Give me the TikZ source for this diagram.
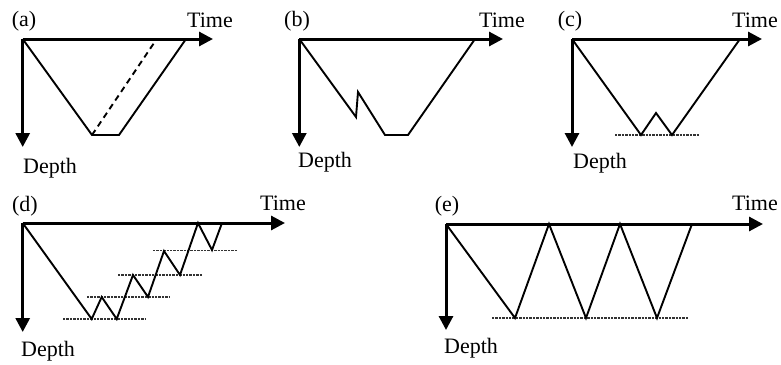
\documentclass[tikz,border=0pt]{standalone}
\usepackage{fontspec}
\setmainfont{Liberation Serif}
\usetikzlibrary{arrows.meta}
\tikzset{
  axis/.style={line width=1.5pt,-{Triangle[length=7pt,width=7pt]}},
  dive/.style={line width=0.95pt,line join=miter},
  stopline/.style={line width=0.55pt,black!80,dash pattern=on 1.2pt off 0.5pt},
  lbl/.style={font=\fontsize{11}{13}\selectfont,inner sep=0pt},
}

\begin{document}
\begin{tikzpicture}[x=0.5pt,y=-0.5pt]
  \useasboundingbox (0,0) rectangle (781,364);

  % (a) square profile, dashed ascent
  \coordinate (oa) at (22.7,39);
  \coordinate (ta) at (213,39);
  \coordinate (da) at (22.7,147);
  \coordinate (a1) at (92,135);
  \coordinate (a2) at (119,135);
  \coordinate (a3) at (186,39);
  \coordinate (a4) at (154,43);
  \draw[axis] (oa) -- (ta);
  \draw[axis] (oa) -- (da);
  \draw[dive] (oa) -- (a1) -- (a2) -- (a3);
  \draw[line width=0.95pt,dash pattern=on 3pt off 2.2pt] (a1) -- (a4);
  \node[lbl] (la) at (24,21) {(a)};
  \node[lbl] (tma) at (210,20) {Time};
  \node[lbl] (dpa) at (50,168) {Depth};

  % (b) saw-tooth on descent
  \coordinate (ob) at (299.3,39);
  \coordinate (tb) at (503,39);
  \coordinate (db) at (299.3,147);
  \coordinate (b1) at (356,117);
  \coordinate (b2) at (358,92);
  \coordinate (b3) at (385,135);
  \coordinate (b4) at (408,135);
  \coordinate (b5) at (475,39);
  \draw[axis] (ob) -- (tb);
  \draw[axis] (ob) -- (db);
  \draw[dive] (ob) -- (b1) -- (b2) -- (b3) -- (b4) -- (b5);
  \node[lbl] (lb) at (297,21) {(b)};
  \node[lbl] (tmb) at (502,20) {Time};
  \node[lbl] (dpb) at (325,162) {Depth};

  % (c) double bottom
  \coordinate (oc) at (572,39);
  \coordinate (tc) at (762,39);
  \coordinate (dc) at (572,147);
  \coordinate (c1) at (641,135);
  \coordinate (c2) at (656,113);
  \coordinate (c3) at (672,135);
  \coordinate (c4) at (740,39);
  \coordinate (cs1) at (615,135);
  \coordinate (cs2) at (699,135);
  \draw[axis] (oc) -- (tc);
  \draw[axis] (oc) -- (dc);
  \draw[stopline] (cs1) -- (cs2);
  \draw[dive] (oc) -- (c1) -- (c2) -- (c3) -- (c4);
  \node[lbl] (lc) at (570,21) {(c)};
  \node[lbl] (tmc) at (755,20) {Time};
  \node[lbl] (dpc) at (600,163) {Depth};

  % (d) staged ascent
  \coordinate (od) at (22.7,223);
  \coordinate (td) at (285,223);
  \coordinate (dd) at (22.7,332);
  \coordinate (d1) at (91.7,319);
  \coordinate (d2) at (101.7,297);
  \coordinate (d3) at (116.7,319);
  \coordinate (d4) at (133,275);
  \coordinate (d5) at (148,297);
  \coordinate (d6) at (164,251);
  \coordinate (d7) at (180,275);
  \coordinate (d8) at (198,223);
  \coordinate (d9) at (212,250);
  \coordinate (d10) at (222,223);
  \draw[axis] (od) -- (td);
  \draw[axis] (od) -- (dd);
  \draw[stopline] (63,319) coordinate (ds1) -- (145,319) coordinate (ds2);
  \draw[stopline] (87,297) coordinate (ds3) -- (170,297) coordinate (ds4);
  \draw[stopline] (118,275) coordinate (ds5) -- (202,275) coordinate (ds6);
  \draw[stopline] (153,250.5) coordinate (ds7) -- (237,250.5) coordinate (ds8);
  \draw[dive] (od) -- (d1) -- (d2) -- (d3) -- (d4) -- (d5) -- (d6) -- (d7) -- (d8) -- (d9) -- (d10);
  \node[lbl] (ld) at (25,206) {(d)};
  \node[lbl] (tmd) at (283,203) {Time};
  \node[lbl] (dpd) at (48,351) {Depth};

  % (e) repeated dives
  \coordinate (oe) at (446,224);
  \coordinate (te) at (763,224);
  \coordinate (de) at (446,330);
  \coordinate (e1) at (515,318);
  \coordinate (e2) at (549,224);
  \coordinate (e3) at (586,318);
  \coordinate (e4) at (620,224);
  \coordinate (e5) at (657,318);
  \coordinate (e6) at (692,224);
  \coordinate (es1) at (492,318);
  \coordinate (es2) at (688,318);
  \draw[axis] (oe) -- (te);
  \draw[axis] (oe) -- (de);
  \draw[stopline] (es1) -- (es2);
  \draw[dive] (oe) -- (e1) -- (e2) -- (e3) -- (e4) -- (e5) -- (e6);
  \node[lbl] (le) at (447,206) {(e)};
  \node[lbl] (tme) at (755,203) {Time};
  \node[lbl] (dpe) at (471,348) {Depth};
\end{tikzpicture}
\end{document}
